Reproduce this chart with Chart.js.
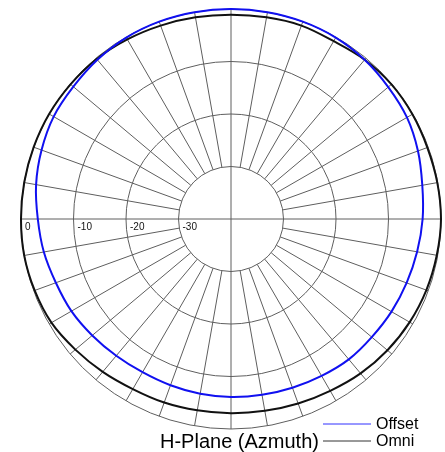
<!DOCTYPE html>
<html>
<head>
<meta charset="utf-8">
<title>H-Plane (Azmuth)</title>
<script src="https://cdn.jsdelivr.net/npm/chart.js@4/dist/chart.umd.min.js"></script>
<style>
  html, body { margin: 0; padding: 0; background: #fff; }
  #wrap { width: 445px; height: 452px; position: relative; }
</style>
</head>
<body>
<div id="wrap"><canvas id="pattern"></canvas></div>
<script>
// azimuth angles (deg, clockwise from top), 10 deg steps
const angles = [0,10,20,30,40,50,60,70,80,90,100,110,120,130,140,150,160,170,
                180,190,200,210,220,230,240,250,260,270,280,290,300,310,320,330,340,350];

// relative gain (dB)
const offsetDb = [0, 0, 0, -0.1, -0.4, -0.9, -1.3, -2.1, -3.0, -3.5, -4.0, -4.4,
                  -4.7, -5.0, -5.1, -5.5, -5.8, -6.0, -6.1, -6.2, -6.3, -6.3, -6.0, -5.5,
                  -4.9, -4.5, -3.8, -3.2, -2.3, -1.6, -1.0, -0.8, -0.4, -0.1, 0, 0];
const omniDb = [-1.1, -1.0, -0.8, -0.9, -0.4, -0.1, -0.1, -0.2, -0.1, 0, -0.2, -0.4,
                -0.7, -1.1, -1.6, -2.2, -2.6, -2.9, -3.0, -3.0, -2.8, -2.6, -2.0, -1.3,
                -0.5, -0.2, 0, 0, 0, 0, 0, -0.1, -0.2, -0.5, -0.8, -1.0];

const ringTicks = [0, -10, -20, -30];
const chartTitle = 'H-Plane (Azmuth)';

const gridColor = '#5e5e5e';
const font = '"Liberation Sans", Arial, sans-serif';

// spokes only outside the -30 ring, full cross through centre, ring labels on the left axis
const polarGrid = {
  id: 'polarGrid',
  beforeDatasetsDraw(chart) {
    const s = chart.scales.r;
    const ctx = chart.ctx;
    ctx.save();
    ctx.strokeStyle = gridColor;
    ctx.lineWidth = 1;
    angles.forEach((a, i) => {
      const from = s.getPointPositionForValue(i, a % 90 === 0 ? s.min : -30);
      const to = s.getPointPositionForValue(i, s.max);
      ctx.beginPath();
      ctx.moveTo(from.x, from.y);
      ctx.lineTo(to.x, to.y);
      ctx.stroke();
    });
    const leftIdx = angles.indexOf(270);
    ctx.fillStyle = '#111';
    ctx.font = '10px ' + font;
    ctx.textBaseline = 'top';
    ringTicks.forEach(v => {
      const p = s.getPointPositionForValue(leftIdx, v);
      ctx.fillText(String(v), p.x + 4, p.y + 3);
    });
    ctx.restore();
  },
  afterDraw(chart) {
    const ctx = chart.ctx;
    ctx.save();
    ctx.textBaseline = 'alphabetic';
    ctx.fillStyle = '#000';
    chart.data.datasets.forEach((ds, k) => {
      const y = 424 + k * 17;
      ctx.strokeStyle = ds.legendColor;
      ctx.lineWidth = 1;
      ctx.beginPath();
      ctx.moveTo(323, y);
      ctx.lineTo(371, y);
      ctx.stroke();
      ctx.font = '16px ' + font;
      ctx.fillText(ds.label, 376, y + 5);
    });
    ctx.font = '20px ' + font;
    ctx.fillText(chartTitle, 160, 448);
    ctx.restore();
  }
};

new Chart(document.getElementById('pattern'), {
  type: 'radar',
  data: {
    labels: angles.map(a => a + '°'),
    datasets: [
      {
        label: 'Offset',
        data: offsetDb,
        borderColor: '#1010f0',
        legendColor: '#3030ff',
        borderWidth: 2,
        pointRadius: 0,
        tension: 0.35,
        fill: false
      },
      {
        label: 'Omni',
        data: omniDb,
        borderColor: '#111',
        legendColor: '#333',
        borderWidth: 2,
        pointRadius: 0,
        tension: 0.35,
        fill: false
      }
    ]
  },
  options: {
    responsive: true,
    maintainAspectRatio: false,
    animation: false,
    layout: { padding: { left: 21, right: 4, top: 9, bottom: 23 } },
    plugins: {
      legend: { display: false },
      tooltip: { enabled: false }
    },
    scales: {
      r: {
        min: -40,
        max: 0,
        beginAtZero: false,
        ticks: { display: false, stepSize: 10 },
        pointLabels: { display: false },
        angleLines: { display: false },
        grid: {
          circular: true,
          lineWidth: 1,
          color: c => (c.tick && c.tick.value === -40 ? 'transparent' : gridColor)
        }
      }
    }
  },
  plugins: [polarGrid]
});
</script>
</body>
</html>
